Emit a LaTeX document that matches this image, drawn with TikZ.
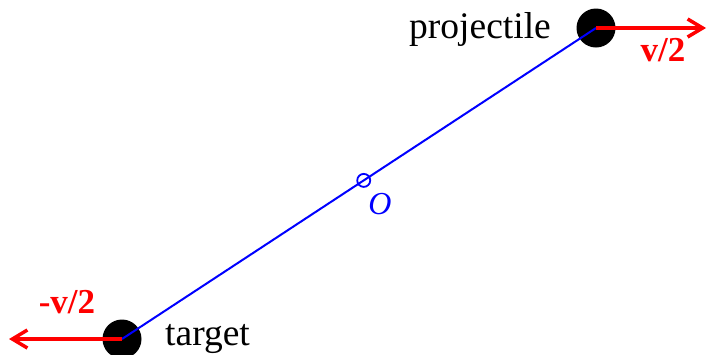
\documentclass[tikz,border=0pt]{standalone}
\usepackage{fontspec}
\setmainfont{Liberation Serif}
\usetikzlibrary{arrows.meta}

\begin{document}
\begin{tikzpicture}[
  x=1pt, y=-1pt,
  ball/.style={circle, fill=black, minimum size=39pt, inner sep=0pt},
  vel/.style={-{Straight Barb[length=15pt, width=18pt]}, red, line width=3.5pt},
  label/.style={inner sep=0pt, font=\fontsize{37.5pt}{42pt}\selectfont},
  vlabel/.style={label, text=red, font=\fontsize{35pt}{40pt}\selectfont\bfseries},
]
\useasboundingbox (0,0) rectangle (713,354);

% === THE TWO BODIES ===
\node[ball] (proj) at (596,28) {};
\node[ball] (targ) at (122,339) {};

% line joining them, with the centre of mass on it
\draw[blue, line width=2pt] (targ.center) -- (proj.center)
  node[pos=0.51, circle, draw=blue, line width=1.8pt, minimum size=13pt, inner sep=0pt] (cm) {};
\node[text=blue, font=\fontsize{32pt}{36pt}\selectfont\itshape, inner sep=0pt] (olab) at (380,204) {O};

% === VELOCITIES ===
\coordinate (vtip) at (706,28);
\coordinate (mvtip) at (9,339);
\draw[vel] (proj.center) -- (vtip);
\draw[vel] (targ.center) -- (mvtip);

\node[label, anchor=base west] (plab) at (409,38) {projectile};
\node[label, anchor=base west] (tlab) at (165,345) {target};
\node[vlabel, anchor=base] (vlab) at (663,61) {v/2};
\node[vlabel, anchor=base] (mvlab) at (67,313) {-v/2};
\end{tikzpicture}
\end{document}
